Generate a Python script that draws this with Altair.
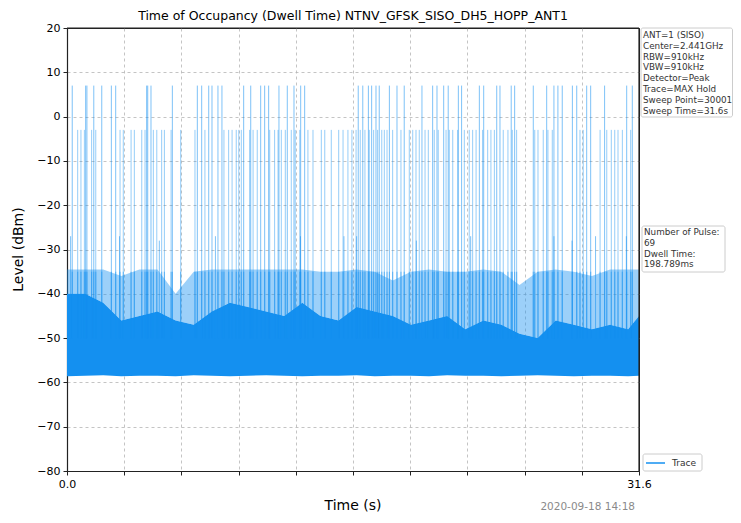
import altair as alt
import pandas as pd

# ---------------- data ----------------
title_text = "Time of Occupancy (Dwell Time) NTNV_GFSK_SISO_DH5_HOPP_ANT1"
x_ticks = [0.0, 3.16, 6.32, 9.48, 12.64, 15.8, 18.96, 22.12, 25.28, 28.44, 31.6]
y_ticks = [-80, -70, -60, -50, -40, -30, -20, -10, 0, 10, 20]

env_t = [0, 1, 2, 3, 4, 5, 6, 7, 8, 9, 10, 11, 12, 13, 14, 15, 16, 17, 18, 19,
         20, 21, 22, 23, 24, 25, 26, 27, 28, 29, 30, 31, 31.6]
floor_db = [-58.6, -58.5, -58.4, -58.6, -58.5, -58.5, -58.6, -58.4, -58.5, -58.6,
            -58.5, -58.4, -58.5, -58.6, -58.5, -58.5, -58.4, -58.6, -58.5, -58.5,
            -58.6, -58.4, -58.5, -58.5, -58.6, -58.5, -58.4, -58.5, -58.6, -58.5,
            -58.5, -58.6, -58.5]
dark_top = [-40, -40, -42, -46, -45, -44, -46, -47, -44, -42, -43, -44, -45, -42,
            -45, -46, -43, -44, -45, -47, -46, -45, -48, -46, -47, -49, -50, -46,
            -47, -48, -47, -48, -45]
light_top = [-34.5, -34.5, -34.5, -36, -34.5, -34.5, -40, -35, -34.5, -34.5,
             -34.5, -34.5, -34.5, -34.5, -35, -35, -34.5, -35, -37, -35, -34.5,
             -35, -35, -34.5, -35, -38, -35, -34.5, -35, -36, -34.5, -34.5, -34.5]

peak_hi_t = [0.29, 1.03, 1.10, 1.48, 1.92, 2.45, 2.69, 4.40, 4.46, 4.64, 5.82,
             7.20, 7.44, 7.83, 8.01, 8.34, 8.56, 9.76, 10.15, 10.70, 10.92, 11.14,
             11.71, 12.17, 12.54, 12.91, 13.13, 16.09, 16.34, 16.65, 16.83, 17.07,
             17.25, 17.81, 18.23, 18.63, 19.61, 20.20, 20.44, 20.81, 21.06, 21.62,
             21.80, 22.78, 23.02, 23.74, 23.92, 24.54, 24.73, 25.76, 26.50, 26.90,
             27.12, 27.36, 27.92, 28.16, 28.71, 28.93, 29.70, 30.92, 31.23]
peak_hi_db = 7.0

peak_mid_t = [0.59, 0.77, 0.96, 1.36, 1.59, 2.93, 3.11, 3.54, 3.72, 4.13, 4.31,
              4.77, 4.96, 5.23, 5.38, 5.75, 6.28, 7.07, 7.62, 8.67, 8.93, 9.12,
              9.35, 9.49, 9.63, 10.09, 10.28, 10.51, 11.20, 11.47, 11.66, 11.84,
              12.06, 12.39, 12.61, 12.86, 13.31, 13.59, 14.05, 14.24, 14.60, 15.01,
              15.25, 15.52, 15.74, 15.97, 16.20, 16.46, 16.70, 16.94, 17.16, 17.39,
              17.53, 17.68, 17.99, 18.45, 18.91, 19.10, 19.28, 19.46, 19.78, 19.96,
              20.29, 20.51, 20.94, 21.12, 21.31, 21.58, 21.95, 22.22, 22.41, 22.60,
              22.96, 23.24, 23.42, 23.61, 24.10, 24.36, 24.60, 24.84, 25.84, 26.02,
              26.31, 26.57, 26.81, 28.34, 28.52, 29.45, 29.82, 30.07, 30.26, 30.44,
              30.68, 31.14]
peak_mid_db = -3.0

peak_low_t = [0.2, 2.9, 5.1, 8.2, 12.9, 15.3, 16.0, 19.3, 22.3, 26.9, 27.9,
              29.2, 30.9]
peak_low_db = [-27, -27, -28, -27, -27, -27, -27, -28, -27, -27, -28, -27, -27]

spike_base_db = -50.0
streak_top_db = -35.0

info_lines = ["ANT=1 (SISO)", "Center=2.441GHz", "RBW=910kHz", "VBW=910kHz",
              "Detector=Peak", "Trace=MAX Hold", "Sweep Point=30001",
              "Sweep Time=31.6s"]
pulse_lines = ["Number of Pulse:", "69", "Dwell Time:", "198.789ms"]
legend_label = "Trace"
x_title = "Time (s)"
y_title = "Level (dBm)"
stamp_text = "2020-09-18 14:18"

# ---------------- chart ----------------
W, H = 572, 443
BLUE = "#1490f0"
FONT = "DejaVu Sans"

env = pd.DataFrame({"t": env_t, "floor": floor_db, "dark": dark_top, "light": light_top})
hi = pd.DataFrame({"t": peak_hi_t, "base": spike_base_db, "peak": peak_hi_db})
mid = pd.DataFrame({"t": peak_mid_t, "base": spike_base_db, "peak": peak_mid_db})
low = pd.DataFrame({"t": peak_low_t, "base": spike_base_db, "peak": peak_low_db})
streak = pd.DataFrame({"t": peak_hi_t + peak_mid_t, "base": spike_base_db,
                       "peak": streak_top_db})
one = pd.DataFrame({"k": [0]})

xs = alt.Scale(domain=[0, 31.6], nice=False, zero=False)
ys = alt.Scale(domain=[-80, 20], nice=False, zero=False)

x_axis = alt.Axis(values=x_ticks, title=None, grid=True,
                  labelExpr="datum.value == 0 ? '0.0' : (datum.value > 31.5 ? '31.6' : '')",
                  labelFlush=False,
                  gridOpacity={"condition": {"test": "datum.value <= 0 || datum.value >= 31.5",
                                             "value": 0}, "value": 1})
y_axis = alt.Axis(values=y_ticks, title=None, grid=True,
                  labelExpr="datum.value < 0 ? '\u2212' + abs(datum.value) : '' + datum.value",
                  gridOpacity={"condition": {"test": "datum.value <= -80 || datum.value >= 20",
                                             "value": 0}, "value": 1})

dark = alt.Chart(env).mark_area(color=BLUE, opacity=1).encode(
    x=alt.X("t:Q", scale=xs, axis=x_axis),
    y=alt.Y("floor:Q", scale=ys, axis=y_axis),
    y2="dark:Q")
light = alt.Chart(env).mark_area(color=BLUE, opacity=0.42).encode(
    x=alt.X("t:Q", scale=xs), y=alt.Y("dark:Q", scale=ys), y2="light:Q")

def spikes(df, op, w=1.0):
    return alt.Chart(df).mark_rule(color=BLUE, strokeWidth=w, opacity=op).encode(
        x=alt.X("t:Q", scale=xs), y=alt.Y("base:Q", scale=ys), y2="peak:Q")

def text_at(txt, x, y, size=8.8, color="#333", align="left", baseline="top", angle=0, lh=10.8):
    return alt.Chart(one).mark_text(text=txt, font=FONT, fontSize=size, color=color,
                                    align=align, baseline=baseline, angle=angle,
                                    lineHeight=lh).encode(x=alt.value(x), y=alt.value(y))

def box(x1, x2, y1, y2):
    return alt.Chart(one).mark_rect(fill="white", stroke="#cccccc", strokeWidth=1,
                                    cornerRadius=2).encode(
        x=alt.value(x1), x2=alt.value(x2), y=alt.value(y1), y2=alt.value(y2))

def frame_line(x1, x2, y1, y2):
    return alt.Chart(one).mark_rule(color="#222", strokeWidth=1.2).encode(
        x=alt.value(x1), x2=alt.value(x2), y=alt.value(y1), y2=alt.value(y2))

legend_line = alt.Chart(one).mark_rule(color=BLUE, strokeWidth=1.5).encode(
    x=alt.value(579), x2=alt.value(598), y=alt.value(435))

chart = alt.layer(
    dark, light, spikes(streak, 0.45, 1.2), spikes(low, 0.55), spikes(mid, 0.45),
    spikes(hi, 0.55),
    frame_line(0, W, 0, 0), frame_line(W, W, 0, H),
    text_at(title_text, W / 2, -12, size=12.5, color="black", align="center", baseline="middle"),
    text_at(x_title, W / 2, 478, size=14, color="black", align="center", baseline="middle"),
    text_at(y_title, -48, H / 2, size=14, color="black", align="center", baseline="middle", angle=270),
    text_at(stamp_text, 568, 479, size=10.5, color="#8a8a8a", align="right", baseline="middle"),
    box(574, 665.5, 0, 89),
    text_at(info_lines, 576, 3),
    box(575, 658, 198, 244),
    text_at(pulse_lines, 577, 200),
    box(576, 635, 426, 443),
    legend_line,
    text_at(legend_label, 605, 435, size=9.1, baseline="middle"),
).properties(
    width=W, height=H,
    autosize=alt.AutoSizeParams(type="none"),
    padding={"left": 59, "top": 20, "right": 94, "bottom": 42},
).configure_view(
    stroke="#222", strokeWidth=1
).configure_axis(
    domainColor="#222", domainWidth=1.2, tickColor="#222", tickSize=4,
    labelFont=FONT, labelFontSize=11, labelColor="black", labelPadding=3,
    gridColor="#b5b5b5", gridDash=[3, 3], gridWidth=0.8
)

chart.save("out.html", embed_options={"renderer": "svg", "actions": False})
